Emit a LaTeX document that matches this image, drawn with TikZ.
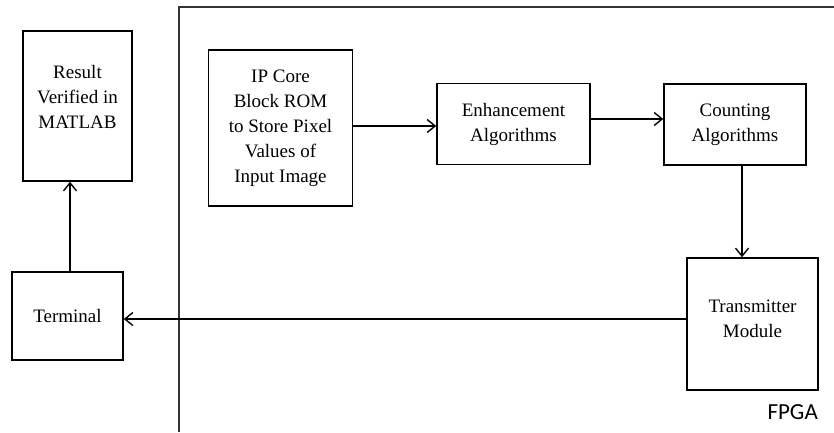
\documentclass[tikz,border=0pt]{standalone}
\usepackage{fontspec}
\setmainfont{Liberation Serif}
\newfontfamily\boxfont{Liberation Serif}
\newfontfamily\labelfont{Carlito}
\usetikzlibrary{arrows.meta}
\begin{document}
\begin{tikzpicture}[x=1pt,y=-1pt,
  box/.style={draw,line width=1.5pt,inner sep=0pt},
  txt/.style={align=center,font=\boxfont\fontsize{19}{25}\selectfont},
  link/.style={-{Straight Barb[length=8pt,width=13pt]},line width=1.4pt}]
\useasboundingbox (0,0) rectangle (834,432);
\draw [line width=1.6pt,draw=black!80] (834,7) -| (179,432);
\node [box,minimum width=109pt,minimum height=150pt] (result) at (77.5,106) {};
\node [txt] (resulttext) at (77.5,97) {Result\\Verified in\\MATLAB};
\node [box,txt,minimum width=111pt,minimum height=88pt] (terminal) at (67.5,316) {Terminal};
\node [box,txt,minimum width=144pt,minimum height=156pt] (ipcore) at (280.5,128)
  {IP Core\\Block ROM\\to Store Pixel\\Values of\\Input Image};
\node [box,txt,minimum width=153pt,minimum height=81pt] (enh) at (513.5,124) {Enhancement\\Algorithms};
\node [box,txt,minimum width=142pt,minimum height=81pt] (count) at (735,124.5) {Counting\\Algorithms};
\node [box,minimum width=131pt,minimum height=132pt] (trans) at (752.5,324) {};
\node [txt] (transtext) at (752.5,319) {Transmitter\\Module};
\node [font=\labelfont\fontsize{23}{28}\selectfont,anchor=south east,inner sep=0pt] (fpga) at (818,420) {FPGA};
\coordinate (ipout) at ([yshift=2pt]ipcore.east);
\coordinate (enhout) at ([yshift=5pt]enh.east);
\coordinate (countout) at ([xshift=7pt]count.south);
\coordinate (transout) at ([yshift=5pt]trans.west);
\coordinate (termout) at ([xshift=2.5pt]terminal.north);
\draw [link] (ipout) -- (ipout -| enh.west);
\draw [link] (enhout) -- (enhout -| count.west);
\draw [link] (countout) -- (countout |- trans.north);
\draw [link] (transout) -- (transout -| terminal.east);
\draw [link] (termout) -- (termout |- result.south);
\end{tikzpicture}
\end{document}
